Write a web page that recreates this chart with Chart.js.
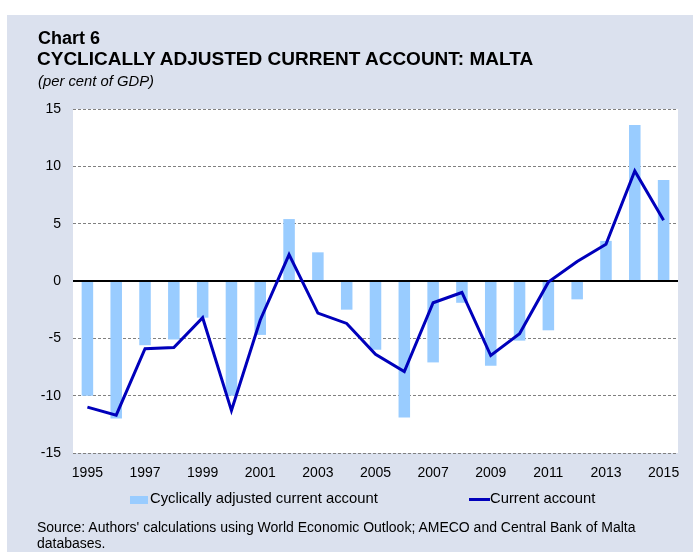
<!DOCTYPE html>
<html>
<head>
<meta charset="utf-8">
<script src="https://cdn.jsdelivr.net/npm/chart.js@4/dist/chart.umd.min.js"></script>
<style>
  html, body { margin: 0; padding: 0; background: #fff; }
  body { width: 693px; height: 553px; position: relative; overflow: hidden; font-family: "Liberation Sans", Arial, sans-serif; color: #000; }
  #panel { position: absolute; left: 7px; top: 15px; right: 0; bottom: 1px; background: #dbe1ee; }
  #chart { position: absolute; left: 0; top: 0; }
  .txt { position: absolute; white-space: nowrap; }
  #t1 { left: 38px; top: 28px; font-size: 18px; font-weight: bold; }
  #t2 { left: 37px; top: 48px; font-size: 19px; font-weight: bold; }
  #t3 { left: 38px; top: 73px; font-size: 14.8px; font-style: italic; }
  .leg { position: absolute; font-size: 14.8px; top: 490px; }
  .sw { position: absolute; }
  #src { left: 37px; top: 519px; font-size: 14px; line-height: 16px; }
</style>
</head>
<body>
<div id="panel"></div>
<canvas id="chart" width="693" height="553"></canvas>
<div class="txt" id="t1">Chart 6</div>
<div class="txt" id="t2">CYCLICALLY ADJUSTED CURRENT ACCOUNT: MALTA</div>
<div class="txt" id="t3">(per cent of GDP)</div>
<div class="sw" style="left:130px; top:496px; width:18px; height:8px; background:#99ccff;"></div>
<div class="leg" style="left:150px;">Cyclically adjusted current account</div>
<div class="sw" style="left:469px; top:498px; width:21px; height:3px; background:#0000bb;"></div>
<div class="leg" style="left:490px;">Current account</div>
<div class="txt" id="src">Source: Authors' calculations using World Economic Outlook; AMECO and Central Bank of Malta<br>databases.</div>
<script>
// Dữ liệu
const years = ['1995', '1996', '1997', '1998', '1999', '2000', '2001', '2002', '2003', '2004', '2005',
    '2006', '2007', '2008', '2009', '2010', '2011', '2012', '2013', '2014', '2015'];
const cyclicallyAdjusted = [-10.0, -12.0, -5.6, -5.1, -3.2, -10.0, -4.7, 5.4, 2.5, -2.5, -6.0,
    -11.9, -7.1, -1.9, -7.4, -5.2, -4.3, -1.6, 3.5, 13.6, 8.8];
const currentAccount = [-11.0, -11.7, -5.9, -5.8, -3.2, -11.3, -3.4, 2.3, -2.8, -3.7, -6.4,
    -7.9, -1.9, -1.0, -6.5, -4.6, -0.1, 1.7, 3.2, 9.6, 5.3];
const yMin = -15;
const yMax = 15;
const yStep = 5;

// nền trắng cho vùng vẽ
const plotBg = {
    id: 'plotBg',
    beforeDraw(chart) {
        const a = chart.chartArea;
        const ctx = chart.ctx;
        ctx.save();
        ctx.fillStyle = '#ffffff';
        ctx.fillRect(a.left, a.top, a.right - a.left, a.bottom - a.top);
        ctx.restore();
    }
};

const ctx = document.getElementById('chart').getContext('2d');
const chart = new Chart(ctx, {
    data: {
        labels: years,
        datasets: [{
            type: 'line',
            label: 'Current account',
            data: currentAccount,
            borderColor: '#0000bb',
            borderWidth: 3,
            pointRadius: 0,
            tension: 0,
            order: 0
        }, {
            type: 'bar',
            label: 'Cyclically adjusted current account',
            data: cyclicallyAdjusted,
            backgroundColor: '#99ccff',
            barPercentage: 0.4,
            categoryPercentage: 1,
            order: 1
        }]
    },
    options: {
        responsive: false,
        animation: false,
        layout: { padding: { left: 0, top: 109, right: 15, bottom: 60 } },
        plugins: {
            legend: { display: false },
            tooltip: { enabled: false }
        },
        scales: {
            x: {
                offset: true,
                grid: { display: false, drawTicks: false },
                border: { display: false },
                ticks: {
                    autoSkip: false,
                    maxRotation: 0,
                    padding: 12,
                    color: '#000',
                    font: { family: 'Liberation Sans', size: 14 },
                    callback: (v, i) => (i % 2 === 0 ? years[i] : '')
                },
                afterFit: s => { s.height = 40; }
            },
            y: {
                min: yMin,
                max: yMax,
                ticks: {
                    stepSize: yStep,
                    padding: 12,
                    color: '#000',
                    font: { family: 'Liberation Sans', size: 14 }
                },
                grid: {
                    drawTicks: false,
                    color: c => (c.tick && c.tick.value === 0 ? '#000000' : '#808080'),
                    lineWidth: c => (c.tick && c.tick.value === 0 ? 2 : 1)
                },
                border: {
                    display: false,
                    dash: c => (c.tick && c.tick.value === 0 ? [] : [3, 2])
                },
                afterFit: s => { s.width = 73; }
            }
        }
    },
    plugins: [plotBg]
});
</script>
</body>
</html>
